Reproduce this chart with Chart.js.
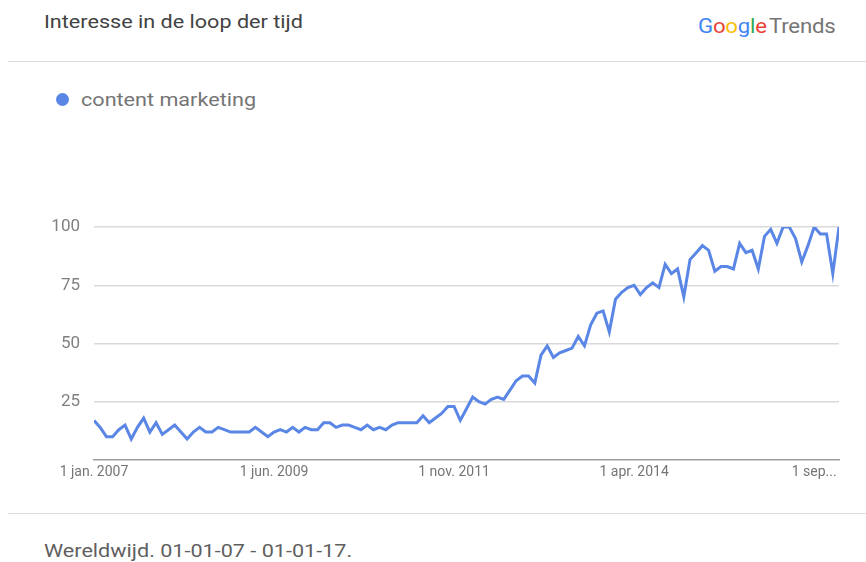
<!DOCTYPE html>
<html>
<head>
<meta charset="utf-8">
<script src="https://cdn.jsdelivr.net/npm/chart.js@4/dist/chart.umd.min.js"></script>
<style>
  body { margin: 0; background: #fff; font-family: Roboto, "Noto Sans", sans-serif; }
  #page { position: relative; width: 866px; height: 562px; overflow: hidden; }
  .rek { display: inline-block; transform-origin: 0 50%; white-space: nowrap; }
  .titel { position: absolute; left: 44px; top: 11px; font-size: 18px; color: #424242; transform: scaleX(1.2); }
  .logo { position: absolute; left: 698px; top: 14px; font-size: 20px; letter-spacing: -0.2px; transform: scaleX(1.11); }
  .logo .t { color: #757575; margin-left: 2px; }
  .lijn { position: absolute; left: 8px; right: 0; height: 1px; background: #dcdcdc; }
  .legenda { position: absolute; left: 56px; top: 89px; font-size: 18px; color: #757575; }
  .legenda .dot { position: absolute; left: 0; top: 4px; width: 13px; height: 13px; border-radius: 50%; background: #5a86e5; }
  .legenda .txt { position: absolute; left: 25px; top: 0; transform: scaleX(1.2); }
  .voet { position: absolute; left: 44px; top: 540px; font-size: 18px; color: #5f5f5f; transform: scaleX(1.2); }
  #wrap { position: absolute; left: 0; top: 200px; width: 866px; height: 300px; }
</style>
</head>
<body>
<div id="page">
  <div class="titel rek">Interesse in de loop der tijd</div>
  <div class="logo rek"><span style="color:#4285F4">G</span><span style="color:#EA4335">o</span><span style="color:#FBBC05">o</span><span style="color:#4285F4">g</span><span style="color:#34A853">l</span><span style="color:#EA4335">e</span><span class="t">Trends</span></div>
  <div class="lijn" style="top:61px"></div>
  <div class="legenda"><span class="dot"></span><span class="txt rek">content marketing</span></div>
  <div id="wrap"><canvas id="grafiek"></canvas></div>
  <div class="lijn" style="top:513px"></div>
  <div class="voet rek">Wereldwijd. 01-01-07 - 01-01-17.</div>
</div>
<script>
// maandelijkse interesse, jan 2007 t/m jan 2017
const interesse = [
  17, 14, 10, 10, 13, 15, 9, 14, 18, 12, 16, 11, 13, 15, 12, 9, 12, 14, 12, 12,
  14, 13, 12, 12, 12, 12, 14, 12, 10, 12, 13, 12, 14, 12, 14, 13, 13, 16, 16, 14, 15,
  15, 14, 13, 15, 13, 14, 13, 15, 16, 16, 16, 16, 19, 16, 18, 20, 23, 23, 17, 22,
  27, 25, 24, 26, 27, 26, 30, 34, 36, 36, 33, 45, 49, 44, 46, 47, 48, 53, 49,
  58, 63, 64, 55, 69, 72, 74, 75, 71, 74, 76, 74, 84, 80, 82, 70, 86, 89, 92, 90,
  81, 83, 83, 82, 93, 89, 90, 82, 96, 99, 93, 100, 100, 95, 85, 92, 100, 97, 97, 80, 100
];
const xTickPos = [0, 29, 58, 87, 116];
const xTickLabels = ["1 jan. 2007", "1 jun. 2009", "1 nov. 2011", "1 apr. 2014", "1 sep..."];
const yTicks = [25, 50, 75, 100];

const punten = interesse.map((v, i) => ({ x: i, y: v }));

new Chart(document.getElementById("grafiek"), {
  type: "line",
  data: {
    datasets: [{
      label: "content marketing",
      data: punten,
      borderColor: "#5a86e5",
      borderWidth: 3,
      pointRadius: 0,
      tension: 0,
      fill: false
    }]
  },
  options: {
    responsive: true,
    maintainAspectRatio: false,
    animation: false,
    layout: { padding: { top: 27, right: 27, left: 0, bottom: 0 } },
    plugins: { legend: { display: false }, tooltip: { enabled: false } },
    scales: {
      x: {
        type: "linear",
        min: 0,
        max: interesse.length - 1,
        afterBuildTicks: s => { s.ticks = xTickPos.map(v => ({ value: v })); },
        afterFit: s => { s.height = 40; },
        ticks: {
          autoSkip: false,
          maxRotation: 0,
          padding: 4,
          color: "#757575",
          font: { family: "Roboto", size: 14 },
          callback: (v) => xTickLabels[xTickPos.indexOf(v)]
        },
        grid: { display: false, drawTicks: false },
        border: { color: "#9e9e9e", width: 1.5 }
      },
      y: {
        min: 0,
        max: 100,
        afterBuildTicks: s => { s.ticks = [0].concat(yTicks).map(v => ({ value: v })); },
        afterFit: s => { s.width = 94; },
        ticks: {
          padding: 14,
          color: "#808080",
          font: { family: "Roboto", size: 17 },
          callback: v => v === 0 ? "" : v
        },
        grid: {
          drawTicks: false,
          color: c => c.tick && c.tick.value === 0 ? "rgba(0,0,0,0)" : "#d9d9d9",
          lineWidth: 1.5
        },
        border: { display: false }
      }
    }
  }
});
</script>
</body>
</html>
